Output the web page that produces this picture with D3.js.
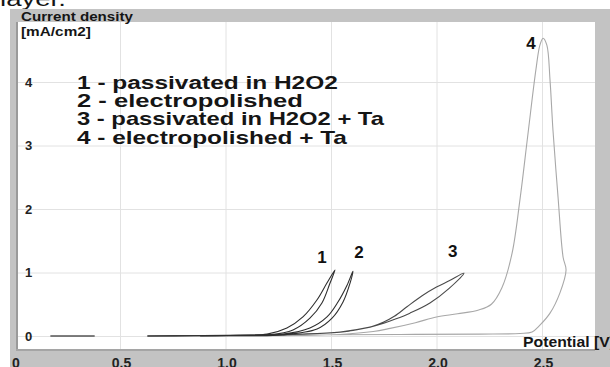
<!DOCTYPE html>
<html>
<head>
<meta charset="utf-8">
<script src="https://cdn.jsdelivr.net/npm/d3@7"></script>
<style>
  body { margin: 0; background: #fff; }
  svg { display: block; font-family: Arial, "Liberation Sans", sans-serif; }
  .tick line { stroke: #e2e2e2; }
  .domain { display: none; }
</style>
</head>
<body>
<div class="canvas"></div>
<script>
// potential [V], current density [mA/cm2]
const curve1 = [[0.63,0],[0.85,0.004],[1.02,0.008],[1.21,0.018],[1.32,0.094],[1.40,0.28],[1.457,0.52],[1.495,0.83],[1.519,1.04],
    [1.48,0.83],[1.434,0.57],[1.367,0.30],[1.291,0.126],[1.197,0.03],[1.02,0.008],[0.95,0.005]];
const curve2 = [[0.88,0],[1.10,0.006],[1.27,0.018],[1.434,0.11],[1.505,0.28],[1.557,0.535],[1.59,0.83],[1.604,1.02],
    [1.576,0.80],[1.533,0.535],[1.481,0.30],[1.40,0.126],[1.272,0.03],[1.069,0.008],[0.95,0.004]];
const curve3 = [[0.63,0],[1.116,0.016],[1.353,0.03],[1.543,0.063],[1.685,0.14],[1.75,0.2],[1.80,0.26],[1.874,0.36],[1.969,0.52],[2.06,0.75],[2.13,0.99],
    [2.06,0.87],[2.0,0.77],[1.93,0.63],[1.86,0.46],[1.80,0.31],[1.75,0.22],[1.694,0.15],[1.543,0.058],[1.306,0.024],[1.02,0.008]];
const curve4 = [[0.63,0],[1.0,0.004],[1.353,0.008],[1.543,0.024],[1.70,0.07],[1.78,0.12],[1.90,0.21],[2.0,0.30],[2.10,0.35],[2.20,0.41],
    [2.26,0.50],[2.31,0.76],[2.358,1.30],[2.396,2.16],[2.433,3.17],[2.471,4.19],[2.49,4.58],[2.505,4.69],[2.523,4.58],[2.538,4.03],
    [2.552,3.24],[2.576,2.19],[2.60,1.24],[2.614,1.04],[2.585,0.68],[2.538,0.36],[2.49,0.17],[2.453,0.063],[2.396,0.04],
    [2.206,0.03],[1.827,0.024],[1.353,0.016],[0.88,0.008]];
const startSegment = [[0.17,0],[0.38,0]];

const curves = [
    { data: curve1, color: '#2e2e2e' },
    { data: curve2, color: '#2e2e2e' },
    { data: curve3, color: '#4a4a4a' },
    { data: curve4, color: '#a8a8a8' }
];

const curveLabels = ['1', '2', '3', '4'];
const labelPos = [[1.435,1.15],[1.61,1.23],[2.055,1.25],[2.425,4.52]];

const legend = ['1 - passivated in H2O2', '2 - electropolished', '3 - passivated in H2O2 + Ta', '4 - electropolished + Ta'];
const legendWidths = [261, 226, 307, 270];

const xTicks = [0, 0.5, 1.0, 1.5, 2.0, 2.5];
const yTicks = [0, 1, 2, 3, 4];

const width = 610, height = 367;
const plotL = 18, plotR = 595, plotT = 22, plotB = 349;

const svg = d3.select('.canvas')
    .append('svg')
    .attr('width', width)
    .attr('height', height);

// text stretched sideways to the reference width (the picture is widened)
function wideText(parent, str, x, y, size, w, weight) {
    const g = parent.append('g');
    const t = g.append('text')
        .attr('font-size', size)
        .attr('font-weight', weight || 'bold')
        .attr('fill', '#151515')
        .text(str);
    const sx = w / t.node().getComputedTextLength();
    g.attr('transform', `translate(${x}, ${y}) scale(${sx}, 1)`);
    return t;
}

// caption remnant above the figure
wideText(svg, 'layer.', 0, 6, 21, 66, 'normal');

// gray frame + white plot
svg.append('rect')
    .attr('x', 10).attr('y', 9)
    .attr('width', width - 10).attr('height', height - 9)
    .attr('fill', '#c3c3c3');
svg.append('rect')
    .attr('x', plotL).attr('y', plotT)
    .attr('width', plotR - plotL).attr('height', plotB - plotT)
    .attr('fill', '#fff');
svg.append('line')
    .attr('x1', plotL - 1).attr('x2', plotL - 1)
    .attr('y1', plotT).attr('y2', plotB + 1)
    .attr('stroke', '#9a9a9a').attr('stroke-width', 2);
svg.append('line')
    .attr('x1', plotL - 2).attr('x2', plotR)
    .attr('y1', plotB + 1).attr('y2', plotB + 1)
    .attr('stroke', '#a5a5a5').attr('stroke-width', 2);

const xScale = d3.scaleLinear()
    .domain([0, 2.75])
    .range([14.5, 14.5 + 211 * 2.75]);

const yScale = d3.scaleLinear()
    .domain([0, 4])
    .range([336, 82]);

// grid
svg.append('g')
    .attr('transform', `translate(0, ${plotB})`)
    .call(d3.axisBottom(xScale).tickValues(xTicks.slice(1)).tickSize(-(plotB - plotT)).tickFormat(''));
svg.append('g')
    .attr('transform', `translate(${plotL}, 0)`)
    .call(d3.axisLeft(yScale).tickValues(yTicks).tickSize(-(plotR - plotL)).tickFormat(''));

// y tick labels
svg.append('g')
    .attr('transform', `translate(${plotL}, 0)`)
    .call(d3.axisRight(yScale).tickValues(yTicks).tickSize(0).tickPadding(7).tickFormat(d3.format('d')))
    .call(g => g.selectAll('text')
        .attr('font-size', 13)
        .attr('font-weight', 'bold')
        .attr('font-family', 'Arial, "Liberation Sans", sans-serif')
        .attr('fill', '#222'));

// x tick labels
svg.append('g')
    .attr('transform', `translate(1, 0)`)
    .call(d3.axisBottom(xScale).tickValues(xTicks).tickSize(0).tickFormat(d => d === 0 ? '0' : d.toFixed(1)))
    .call(g => g.selectAll('text')
        .attr('y', 368)
        .attr('dy', 0)
        .attr('font-size', 14)
        .attr('font-weight', 'bold')
        .attr('font-family', 'Arial, "Liberation Sans", sans-serif')
        .attr('fill', '#222'));

// axis titles
wideText(svg, 'Current density', 21, 21, 13, 112);
wideText(svg, '[mA/cm2]', 21, 36, 13, 70);
wideText(svg, 'Potential [V]', 523, 347, 14, 92);

// curves
svg.append('clipPath').attr('id', 'plot-clip')
    .append('rect')
    .attr('x', plotL).attr('y', plotT)
    .attr('width', plotR - plotL).attr('height', plotB - plotT);

const line = d3.line()
    .x(d => xScale(d[0]))
    .y(d => yScale(d[1]))
    .curve(d3.curveCatmullRom.alpha(0.5));

const plot = svg.append('g').attr('clip-path', 'url(#plot-clip)');

plot.append('path')
    .attr('d', line(startSegment))
    .attr('fill', 'none')
    .attr('stroke', '#555')
    .attr('stroke-width', 1.3);

plot.selectAll('path.curve')
    .data(curves.slice().reverse())
    .enter()
    .append('path')
    .attr('class', 'curve')
    .attr('d', d => line(d.data))
    .attr('fill', 'none')
    .attr('stroke', d => d.color)
    .attr('stroke-width', 1.1);

// curve numbers
svg.selectAll('text.num')
    .data(curveLabels)
    .enter()
    .append('text')
    .attr('class', 'num')
    .attr('x', (d, i) => xScale(labelPos[i][0]))
    .attr('y', (d, i) => yScale(labelPos[i][1]))
    .attr('font-size', 17)
    .attr('font-weight', 'bold')
    .attr('fill', '#111')
    .text(d => d);

// legend
const legendG = svg.append('g').attr('id', 'legend');
legend.forEach((d, i) => wideText(legendG, d, 77, 88.5 + i * 18.4, 17.5, legendWidths[i]));
</script>
</body>
</html>
